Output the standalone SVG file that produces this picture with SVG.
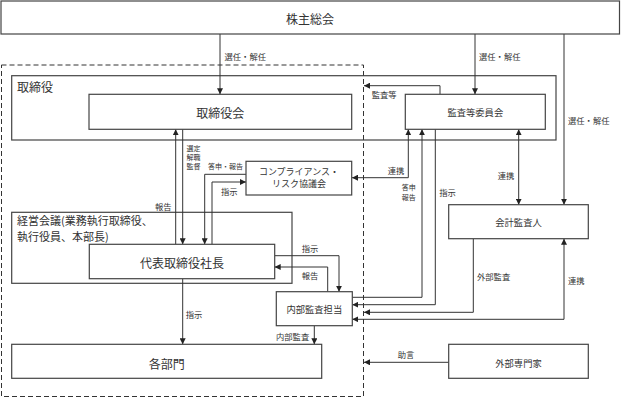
<svg xmlns="http://www.w3.org/2000/svg" width="621" height="398" viewBox="0 0 621 398">
<style>
text{font-family:"Noto Sans CJK JP","Noto Sans CJK SC",sans-serif;fill:#333}
.box{fill:#fff;stroke:#444;stroke-width:1.2}
.frame{fill:none;stroke:#444;stroke-width:1.2}
.dash{fill:none;stroke:#333;stroke-width:1;stroke-dasharray:5 3}
.c{fill:none;stroke:#333;stroke-width:1}
.big{font-size:12px}
.mid{font-size:9.3px}
.sm{font-size:8.3px}
.xs{font-size:7px}
.m{text-anchor:middle;dominant-baseline:central}
.l{dominant-baseline:central}
</style>
<defs>
<marker id="a" viewBox="0 0 10 10" refX="10" refY="5" markerWidth="6" markerHeight="6" markerUnits="userSpaceOnUse" orient="auto-start-reverse">
<path d="M0,0 L10,5 L0,10 z" fill="#222"/>
</marker>
</defs>
<g id="frames">
<rect class="dash" x="1.5" y="65" width="362" height="331.5"/>
<rect class="frame" x="11.7" y="75.7" width="544.3" height="64.3"/>
<rect class="frame" x="11.7" y="212.3" width="280.3" height="71"/>
<text class="big l" x="17" y="86.7">取締役</text>
<text class="l" style="font-size:11px" x="17" y="220">経営会議(業務執行取締役、</text>
<text class="l" style="font-size:11px" x="17" y="236">執行役員、本部長)</text>
</g>
<g id="connectors">
<path class="c" d="M220,34 V94.3" marker-end="url(#a)"/>
<path class="c" d="M475,34 V94.3" marker-end="url(#a)"/>
<path class="c" d="M564,34 V204.7" marker-end="url(#a)"/>
<path class="c" d="M440,94.3 V85.7 H364" marker-end="url(#a)"/>
<path class="c" d="M175.7,244.3 V129.3" marker-end="url(#a)"/>
<path class="c" d="M182.7,129.3 V244.3" marker-end="url(#a)"/>
<path class="c" d="M246,174.3 H204.7 V244.3" marker-end="url(#a)"/>
<path class="c" d="M212,244.3 V182 H246" marker-end="url(#a)"/>
<path class="c" d="M352,177.7 H408.3 V129.3" marker-start="url(#a)" marker-end="url(#a)"/>
<path class="c" d="M352,297.3 H422 V129.3" marker-end="url(#a)"/>
<path class="c" d="M435.3,129.3 V304.7 H352.3" marker-end="url(#a)"/>
<path class="c" d="M518.7,129.3 V204.7" marker-start="url(#a)" marker-end="url(#a)"/>
<path class="c" d="M274.7,255.7 H339 V291.7" marker-end="url(#a)"/>
<path class="c" d="M327.7,291.7 V267 H274.7" marker-end="url(#a)"/>
<path class="c" d="M182.7,278.7 V344.3" marker-end="url(#a)"/>
<path class="c" d="M314.3,325.7 V344.3" marker-end="url(#a)"/>
<path class="c" d="M473.3,238.7 V312.3 H364" marker-end="url(#a)"/>
<path class="c" d="M564,238.7 V319.3 H352.3" marker-start="url(#a)" marker-end="url(#a)"/>
<path class="c" d="M448.7,362.3 H364" marker-end="url(#a)"/>
<text class="sm l" x="224.5" y="55.5">選任・解任</text>
<text class="sm l" x="479" y="55.5">選任・解任</text>
<text class="sm l" x="568" y="120">選任・解任</text>
<text class="sm l" x="371.7" y="94">監査等</text>
<text class="xs l" x="186.5" y="148">選定</text>
<text class="xs l" x="186.5" y="157">解職</text>
<text class="xs l" x="186.5" y="166">監督</text>
<text class="xs l" x="208" y="166">答申・報告</text>
<text class="sm l" x="221" y="191">指示</text>
<text class="sm l" x="155" y="206">報告</text>
<text class="sm l" x="387.7" y="170">連携</text>
<text class="xs l" x="401.7" y="187">答申</text>
<text class="xs l" x="401.7" y="196.5">報告</text>
<text class="sm l" x="439.3" y="191.7">指示</text>
<text class="sm l" x="497.7" y="175">連携</text>
<text class="sm l" x="301.7" y="247.7">指示</text>
<text class="sm l" x="301.7" y="275.3">報告</text>
<text class="sm l" x="276" y="335.7">内部監査</text>
<text class="sm l" x="185.7" y="314">指示</text>
<text class="sm l" x="477" y="276">外部監査</text>
<text class="sm l" x="568" y="280">連携</text>
<text class="sm l" x="397.7" y="354">助言</text>
</g>
<g id="shareholders">
<rect class="box" x="1" y="1" width="618.5" height="33"/>
<text class="big m" x="310" y="18">株主総会</text>
</g>
<g id="board">
<rect class="box" x="89" y="94.3" width="262.7" height="35"/>
<text class="big m" x="220.3" y="112">取締役会</text>
</g>
<g id="audit-committee">
<rect class="box" x="405.3" y="94.3" width="140" height="35"/>
<text class="mid m" x="475.3" y="112">監査等委員会</text>
</g>
<g id="compliance">
<rect class="box" x="246" y="161.3" width="105.7" height="33.7"/>
<text class="m" style="font-size:9px" x="299" y="171.7">コンプライアンス・</text>
<text class="m" style="font-size:9px" x="299" y="183.3">リスク協議会</text>
</g>
<g id="president">
<rect class="box" x="89.3" y="244.3" width="185.4" height="34.4"/>
<text class="big m" x="182" y="262.5">代表取締役社長</text>
</g>
<g id="internal-audit">
<rect class="box" x="276.3" y="291.7" width="76" height="34"/>
<text class="mid m" x="314.3" y="309">内部監査担当</text>
</g>
<g id="departments">
<rect class="box" x="11.7" y="344.3" width="310" height="34"/>
<text class="big m" x="166.7" y="363.3">各部門</text>
</g>
<g id="accounting-auditor">
<rect class="box" x="448.7" y="204.7" width="139.6" height="34"/>
<text class="mid m" x="518.5" y="222.3">会計監査人</text>
</g>
<g id="external-experts">
<rect class="box" x="448.7" y="344.3" width="139.6" height="34"/>
<text class="mid m" x="518.5" y="362.7">外部専門家</text>
</g>
</svg>
